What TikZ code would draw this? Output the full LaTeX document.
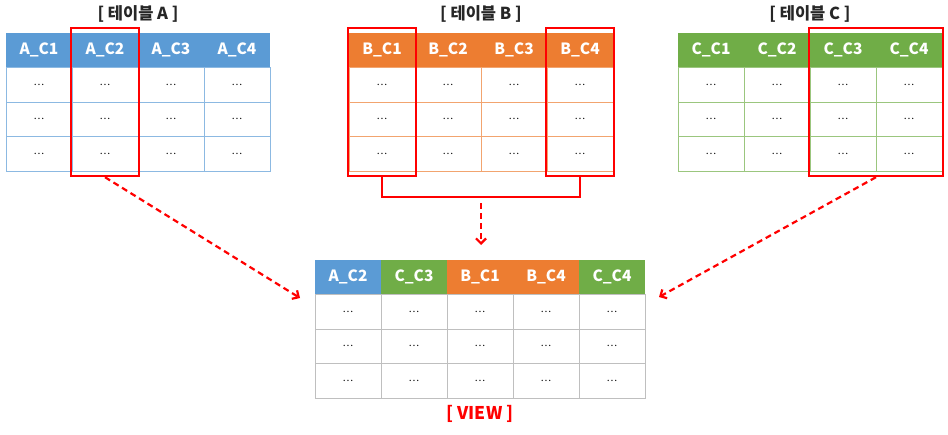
\documentclass[tikz,border=0pt]{standalone}
\usepackage{fontspec}
\setmainfont{Noto Sans CJK KR}
\usetikzlibrary{arrows.meta,positioning,fit}
\definecolor{tblue}{RGB}{91,155,213}
\definecolor{torange}{RGB}{237,125,49}
\definecolor{tgreen}{RGB}{112,173,71}

\begin{document}
\begin{tikzpicture}[x=1pt,y=-1pt,>={Straight Barb[length=5pt,width=10pt]},
  every node/.style={font=\fontsize{15.5}{18}\selectfont\bfseries},
  hcell/.style={minimum width=66pt,minimum height=34.5pt,inner sep=0pt,text=white},
  bcell/.style={draw,fill=white,minimum width=66pt,minimum height=34.5pt,inner sep=0pt,font=\fontsize{10}{12}\selectfont},
  selbox/.style={draw=red,line width=2pt,inner xsep=1pt,inner ysep=5pt},
  tabtitle/.style={text=black!85,font=\fontsize{16.5}{19}\selectfont\bfseries},
  link/.style={red,line width=2.2pt,dash pattern=on 6pt off 4pt,->}]
\useasboundingbox (0,0) rectangle (948,434);
% source tables
\foreach \t/\x/\c in {A/6/tblue,B/349/torange,C/678/tgreen}{
  \node[tabtitle] (\t-title) at (\x+132,14) {[ 테이블 \t{} ]};
  \foreach \i in {1,...,4}{
    \node[hcell,fill=\c] (\t-h\i) at (\x+66*\i-33,50.25) {\t\_C\i};
    \foreach \r in {1,2,3}
      \node[bcell,draw=\c!70] (\t-\r\i) at (\x+66*\i-33,50.25+34.5*\r) {\ldots};
  }
}
% selected columns
\node[selbox,fit=(A-h2)(A-32)] (selA) {};
\node[selbox,fit=(B-h1)(B-31)] (selB1) {};
\node[selbox,fit=(B-h4)(B-34)] (selB4) {};
\node[selbox,fit=(C-h3)(C-34)] (selC) {};
% view
\foreach \i/\n/\c in {1/A\_C2/tblue,2/C\_C3/tgreen,3/B\_C1/torange,4/B\_C4/torange,5/C\_C4/tgreen}{
  \node[hcell,fill=\c] (V-h\i) at (315+66*\i-33,277.25) {\n};
  \foreach \r in {1,2,3}
    \node[bcell,draw=black!25] (V-\r\i) at (315+66*\i-33,277.25+34.5*\r) {\ldots};
}
\node[text=red,font=\fontsize{17.5}{20}\selectfont\bfseries] (V-title) at (480,414) {[ VIEW ]};
% connectors
\coordinate (bjoin) at (481,197);
\coordinate (bout) at (481,203);
\coordinate (vin-a) at (300,298);
\coordinate (vin-b) at (481,245);
\coordinate (vin-c) at (659,297);
\draw[red,line width=2pt] (selB1.south) |- (bjoin) -| (selB4.south);
\draw[link] (bout) -- (vin-b);
\draw[link] (selA.south) -- (vin-a);
\draw[link] (selC.south) -- (vin-c);
\end{tikzpicture}
\end{document}
